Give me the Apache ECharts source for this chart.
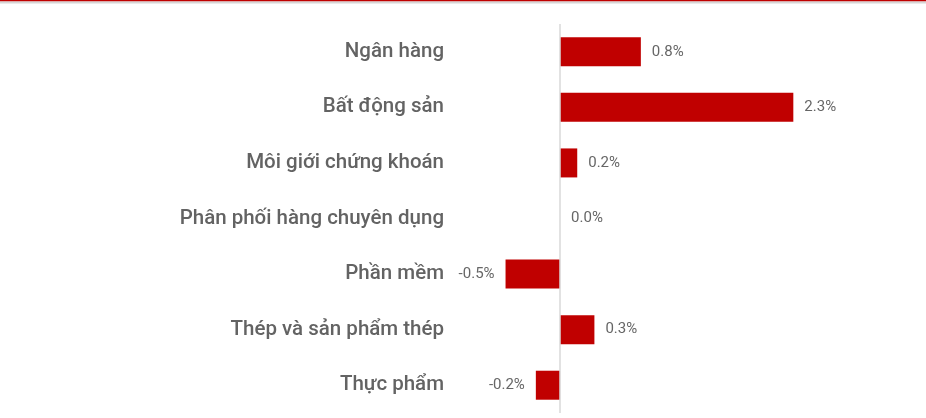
<!DOCTYPE html>
<html>
<head>
<meta charset="utf-8">
<script src="https://cdn.jsdelivr.net/npm/echarts@6/dist/echarts.min.js"></script>
<style>
  html, body { margin: 0; padding: 0; background: #fff; }
  #chart { width: 926px; height: 418px; }
</style>
</head>
<body>
<div id="chart"></div>
<script>
// ngành (từ trên xuống)
const categories = [
  'Ngân hàng',
  'Bất động sản',
  'Môi giới chứng khoán',
  'Phân phối hàng chuyên dụng',
  'Phần mềm',
  'Thép và sản phẩm thép',
  'Thực phẩm'
]
// đóng góp (%), đọc từ độ dài cột
const values = [0.80, 2.31, 0.17, 0.00, -0.54, 0.34, -0.24]

const chart = echarts.init(document.getElementById('chart'))

const option = {
  animation: false,
  // vạch đỏ phía trên
  graphic: [
    { type: 'rect', left: 0, top: 0, shape: { width: 926, height: 1.5 }, style: { fill: '#c00000' } },
    { type: 'rect', left: 0, top: 1.5, shape: { width: 926, height: 2 }, style: { fill: '#d6d6d6' } }
  ],
  grid: {
    left: 449,
    right: 63,
    top: 24,
    bottom: 5
  },
  xAxis: {
    type: 'value',
    min: -1.1,
    max: 3.0,
    show: false
  },
  yAxis: {
    type: 'category',
    inverse: true,
    data: categories,
    axisLine: { show: false },
    axisTick: { show: false },
    axisLabel: {
      margin: 5,
      color: '#636363',
      fontSize: 20.5,
      fontWeight: 500,
      fontFamily: 'Roboto'
    }
  },
  series: [
    {
      type: 'bar',
      barWidth: 29,
      data: values.map(v => ({
        value: v,
        label: { position: v < 0 ? 'left' : 'right' }
      })),
      itemStyle: { color: '#c00000' },
      label: {
        show: true,
        distance: 11,
        color: '#666666',
        fontSize: 15,
        fontFamily: 'Roboto',
        formatter: p => p.value.toFixed(1) + '%'
      },
      markLine: {
        silent: true,
        symbol: 'none',
        label: { show: false },
        lineStyle: { color: '#d9d9d9', type: 'solid', width: 1.5 },
        data: [{ xAxis: 0 }]
      }
    }
  ]
}

chart.setOption(option)
</script>
</body>
</html>
